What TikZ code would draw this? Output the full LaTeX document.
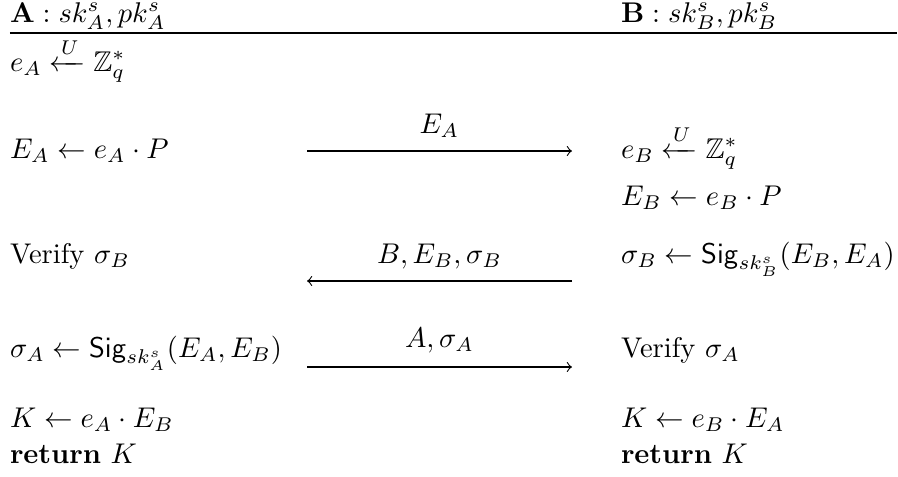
\documentclass[tikz,border=0pt]{standalone}
\usepackage{amsmath,amssymb}
\begin{document}
\begin{tikzpicture}[x=0.3509pt,y=-0.3509pt,
  txt/.style={anchor=base west,inner sep=0pt,outer sep=0pt},
  lbl/.style={anchor=base,inner sep=0pt,outer sep=0pt},
  msg/.style={->,line width=0.4pt}]
\useasboundingbox (0,0) rectangle (898,476);
% headers
\node[txt] (ha) at (10,22) {$\mathbf{A}: sk^s_A, pk^s_A$};
\node[txt] (hb) at (621,22) {$\mathbf{B}: sk^s_B, pk^s_B$};
\coordinate (rl) at (10,33);
\coordinate (rr) at (897,33);
\draw[line width=0.4pt] (rl) -- (rr);
% left column
\node[txt] (a1) at (10,71) {$e_A \xleftarrow{U} \mathbb{Z}_q^*$};
\node[txt] (a2) at (10,158) {$E_A \leftarrow e_A \cdot P$};
\node[txt] (a3) at (10,263) {Verify $\sigma_B$};
\node[txt] (a4) at (10,357) {$\sigma_A \leftarrow \mathsf{Sig}_{sk^s_A}(E_A, E_B)$};
\node[txt] (a5) at (10,427) {$K \leftarrow e_A \cdot E_B$};
\node[txt] (a6) at (10,463) {$\mathbf{return}\ K$};
% right column
\node[txt] (b1) at (621,158) {$e_B \xleftarrow{U} \mathbb{Z}_q^*$};
\node[txt] (b2) at (621,205) {$E_B \leftarrow e_B \cdot P$};
\node[txt] (b3) at (621,263) {$\sigma_B \leftarrow \mathsf{Sig}_{sk^s_B}(E_B, E_A)$};
\node[txt] (b4) at (621,357) {Verify $\sigma_A$};
\node[txt] (b5) at (621,427) {$K \leftarrow e_B \cdot E_A$};
\node[txt] (b6) at (621,463) {$\mathbf{return}\ K$};
% messages
\coordinate (m1l) at (307,151);
\coordinate (m1r) at (572,151);
\draw[msg] (m1l) -- (m1r);
\node[lbl] (l1) at (439.5,133) {$E_A$};
\coordinate (m2l) at (307,281);
\coordinate (m2r) at (572,281);
\draw[msg] (m2r) -- (m2l);
\node[lbl] (l2) at (439.5,263) {$B, E_B, \sigma_B$};
\coordinate (m3l) at (307,367);
\coordinate (m3r) at (572,367);
\draw[msg] (m3l) -- (m3r);
\node[lbl] (l3) at (439.5,347) {$A, \sigma_A$};
\end{tikzpicture}
\end{document}
